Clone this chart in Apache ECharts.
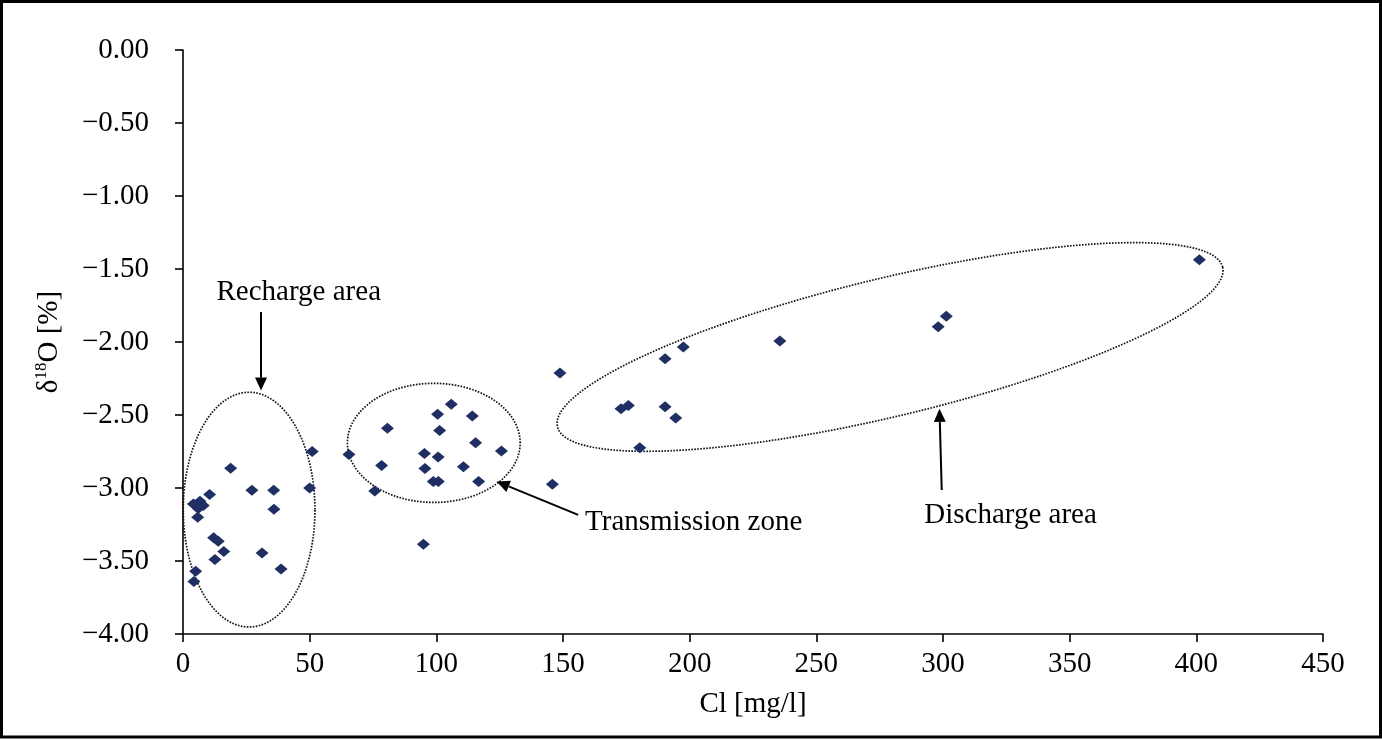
<!DOCTYPE html>
<html>
<head>
<meta charset="utf-8">
<title>Cl vs d18O</title>
<script src="https://cdn.jsdelivr.net/npm/echarts@6/dist/echarts.min.js"></script>
<style>
    html, body { margin: 0; padding: 0; background: #ffffff; }
    #chart { width: 1382px; height: 741px; }
</style>
</head>
<body>
<div id="chart"></div>
<script>
// samples: chloride [mg/l] and delta 18O
const clValues = [
    51.0, 65.5, 18.8, 27.2, 35.8, 50.0, 10.5, 6.7, 4.1, 8.0, 6.0, 5.8, 35.9,
    12.1, 13.9, 16.1, 12.6, 31.2, 38.7, 5.0, 4.3,
    80.7, 78.4, 75.7, 105.9, 100.5, 114.2, 101.3, 115.5, 125.7, 95.3, 100.7,
    95.5, 110.7, 98.8, 100.8, 116.7, 145.8, 94.9,
    148.8, 197.5, 190.3, 172.9, 175.8, 190.3, 194.5, 180.3, 235.6, 298.1, 301.3, 401.2
];
const d18OValues = [
    -2.75, -2.77, -2.865, -3.015, -3.015, -3.0, -3.045, -3.09, -3.11, -3.12, -3.14, -3.20, -3.145,
    -3.34, -3.365, -3.435, -3.49, -3.445, -3.555, -3.57, -3.64,
    -2.59, -2.846, -3.02, -2.426, -2.495, -2.506, -2.606, -2.69, -2.746, -2.764, -2.787,
    -2.867, -2.855, -2.956, -2.956, -2.956, -2.975, -3.386,
    -2.213, -2.035, -2.115, -2.458, -2.435, -2.444, -2.52, -2.725, -1.994, -1.895, -1.824, -1.436
];

// zones drawn as dotted ellipses: centre, major and minor half-axis vectors (data units)
const zoneCentres = [[26.1, -3.148], [99.0, -2.691], [279.1, -2.034]];
const zoneMajor = [[26.0, 0], [34.1, 0], [131.3, 0.547]];
const zoneMinor = [[0, 0.804], [0, 0.408], [6.36, -0.46]];

// callouts: label text, label anchor, arrow start and arrow tip (data units)
const calloutTexts = ["Recharge area", "Transmission zone", "Discharge area"];
const calloutAnchors = [[45.7, -1.658], [158.7, -3.236], [292.6, -3.19]];
const calloutAligns = ["center", "left", "left"];
const arrowFrom = [[30.8, -1.795], [156.0, -3.184], [299.5, -3.014]];
const arrowTo = [[30.8, -2.333], [123.8, -2.955], [298.6, -2.458]];

const FONT = "'Liberation Serif', 'Times New Roman', serif";

const points = clValues.map(function (cl, i) {
    return [cl, d18OValues[i]];
});

function formatO18(value) {
    if (value === 0) {
        return "0.00";
    }
    return "\u2212" + Math.abs(value).toFixed(2);
}

function renderZone(params, api) {
    const i = params.dataIndex;
    const c = zoneCentres[i];
    const m = zoneMajor[i];
    const n = zoneMinor[i];
    const pts = [];
    for (let k = 0; k < 180; k++) {
        const t = (k / 180) * Math.PI * 2;
        const ct = Math.cos(t);
        const st = Math.sin(t);
        pts.push(api.coord([c[0] + m[0] * ct + n[0] * st, c[1] + m[1] * ct + n[1] * st]));
    }
    return {
        type: "polygon",
        shape: { points: pts },
        style: {
            fill: "none",
            stroke: "#111111",
            lineWidth: 1.7,
            lineDash: [1.6, 1.4]
        },
        silent: true
    };
}

function renderCallout(params, api) {
    const i = params.dataIndex;
    const p0 = api.coord(arrowFrom[i]);
    const p1 = api.coord(arrowTo[i]);
    const dx = p1[0] - p0[0];
    const dy = p1[1] - p0[1];
    const len = Math.sqrt(dx * dx + dy * dy);
    const ux = dx / len;
    const uy = dy / len;
    const headLen = 13;
    const headHalf = 6;
    const base = [p1[0] - ux * headLen, p1[1] - uy * headLen];
    const anchor = api.coord(calloutAnchors[i]);
    return {
        type: "group",
        silent: true,
        children: [
            {
                type: "line",
                shape: { x1: p0[0], y1: p0[1], x2: base[0], y2: base[1] },
                style: { stroke: "#000000", lineWidth: 2 }
            },
            {
                type: "polygon",
                shape: {
                    points: [
                        p1,
                        [base[0] - uy * headHalf, base[1] + ux * headHalf],
                        [base[0] + uy * headHalf, base[1] - ux * headHalf]
                    ]
                },
                style: { fill: "#000000" }
            },
            {
                type: "text",
                x: anchor[0],
                y: anchor[1],
                style: {
                    text: calloutTexts[i],
                    fill: "#000000",
                    font: "29px " + FONT,
                    align: calloutAligns[i],
                    verticalAlign: "middle"
                }
            }
        ]
    };
}

const chart = echarts.init(document.getElementById("chart"), null, { renderer: "canvas" });

const option = {
    animation: false,
    backgroundColor: "#ffffff",
    textStyle: { fontFamily: FONT, color: "#000000" },
    graphic: [
        {
            type: "rect",
            silent: true,
            shape: { x: 1.5, y: 1.5, width: 1379, height: 735.5 },
            style: { fill: "none", stroke: "#000000", lineWidth: 3 }
        }
    ],
    grid: {
        left: 183,
        right: 59,
        top: 50,
        bottom: 107,
        containLabel: false,
        outerBoundsMode: "none"
    },
    xAxis: {
        type: "value",
        min: 0,
        max: 450,
        interval: 50,
        name: "Cl [mg/l]",
        nameLocation: "middle",
        nameGap: 56,
        nameTextStyle: { fontFamily: FONT, fontSize: 29, color: "#000000" },
        axisLine: { show: true, onZero: false, lineStyle: { color: "#000000", width: 1.6 } },
        axisTick: { show: true, length: 8, lineStyle: { color: "#000000", width: 1.6 } },
        axisLabel: { fontFamily: FONT, fontSize: 29, color: "#000000", margin: 16 },
        splitLine: { show: false }
    },
    yAxis: {
        type: "value",
        min: -4,
        max: 0,
        interval: 0.5,
        name: "{a|\u03b4}{s|18}{a|O [%]}",
        nameLocation: "middle",
        nameRotate: 90,
        nameGap: 118,
        nameTextStyle: {
            fontFamily: FONT,
            color: "#000000",
            rich: {
                a: { fontFamily: FONT, fontSize: 29, color: "#000000", lineHeight: 32 },
                s: { fontFamily: FONT, fontSize: 17, color: "#000000", verticalAlign: "top", lineHeight: 32 }
            }
        },
        axisLine: { show: true, onZero: false, lineStyle: { color: "#000000", width: 1.6 } },
        axisTick: { show: true, length: 8, lineStyle: { color: "#000000", width: 1.6 } },
        axisLabel: {
            fontFamily: FONT,
            fontSize: 29,
            color: "#000000",
            margin: 34,
            formatter: formatO18
        },
        splitLine: { show: false }
    },
    series: [
        {
            type: "custom",
            name: "zones",
            renderItem: renderZone,
            data: zoneCentres,
            clip: false,
            z: 1
        },
        {
            type: "scatter",
            name: "samples",
            data: points,
            symbol: "diamond",
            symbolSize: [13, 11],
            itemStyle: { color: "#1f2f63", opacity: 1 },
            z: 3
        },
        {
            type: "custom",
            name: "callouts",
            renderItem: renderCallout,
            data: calloutAnchors,
            clip: false,
            z: 4
        }
    ]
};

chart.setOption(option);
</script>
</body>
</html>
